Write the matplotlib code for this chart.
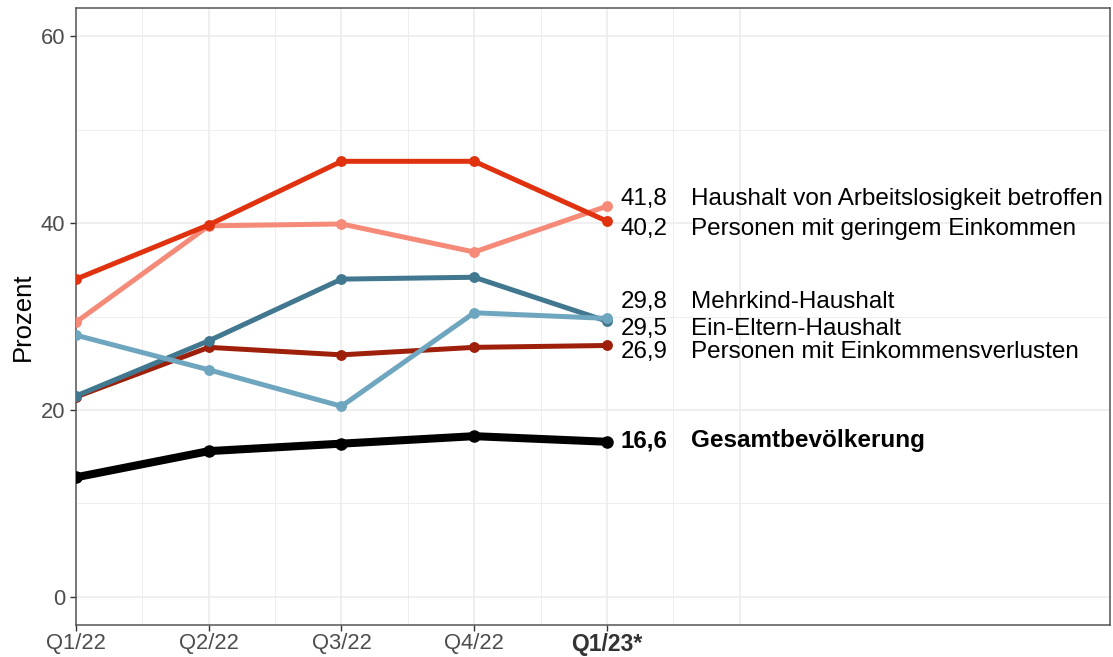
import matplotlib
matplotlib.use("Agg")
import matplotlib.pyplot as plt
import numpy as np

plt.rcParams["font.family"] = ["Liberation Sans", "DejaVu Sans"]

# data
quarters = ["Q1/22", "Q2/22", "Q3/22", "Q4/22", "Q1/23*"]
groups = [
    "Haushalt von Arbeitslosigkeit betroffen",
    "Personen mit geringem Einkommen",
    "Mehrkind-Haushalt",
    "Ein-Eltern-Haushalt",
    "Personen mit Einkommensverlusten",
    "Gesamtbevölkerung",
]
arbeitslos = [29.4, 39.7, 39.9, 36.9, 41.8]
gering_eink = [34.0, 39.8, 46.6, 46.6, 40.2]
mehrkind = [28.0, 24.3, 20.4, 30.4, 29.8]
ein_eltern = [21.5, 27.4, 34.0, 34.2, 29.5]
eink_verlust = [21.4, 26.7, 25.9, 26.7, 26.9]
gesamt = [12.8, 15.6, 16.4, 17.2, 16.6]

series = [arbeitslos, gering_eink, mehrkind, ein_eltern, eink_verlust, gesamt]
colors = ["#F58A78", "#E0320F", "#6FA6BF", "#41778F", "#9E200A", "#000000"]
# label positions after de-overlapping (data units)
label_y = [42.6, 39.4, 31.6, 28.7, 26.2, 16.7]

fig = plt.figure(figsize=(11.13, 6.57), dpi=100)
ax = fig.add_axes([0.0683, 0.0487, 0.9290, 0.9391])

x = np.arange(1, len(quarters) + 1)
# draw order: thin colored lines, black on top
order = [4, 3, 2, 0, 1, 5]
for i in order:
    bold = groups[i] == "Gesamtbevölkerung"
    ax.plot(x, series[i], color=colors[i], lw=5.8 if bold else 3.6,
            marker="o", ms=8 if bold else 6.8, solid_capstyle="butt", zorder=3)

for i, g in enumerate(groups):
    bold = g == "Gesamtbevölkerung"
    val = f"{series[i][-1]:.1f}".replace(".", ",")
    fw = "bold" if bold else "normal"
    ax.text(5.105, label_y[i], val, fontsize=17.4, fontweight=fw,
            va="center", ha="left", color="black")
    ax.text(5.63, label_y[i], g, fontsize=17.5, fontweight=fw,
            va="center", ha="left", color="black")

ax.set_xlim(1, 8.79)
ax.set_ylim(-3, 63)
ax.set_xticks(list(x) + [6])
ax.set_xticklabels(quarters + [""])
ax.set_xticks(np.arange(1.5, 6, 1), minor=True)
ax.set_yticks([0, 20, 40, 60])
ax.set_yticks([10, 30, 50], minor=True)

ax.grid(which="major", color="#EBEBEB", lw=1.1, zorder=0)
ax.grid(which="minor", color="#EBEBEB", lw=0.6, zorder=0)
ax.set_axisbelow(True)

ax.tick_params(which="major", length=4, width=1, color="#333333",
               labelsize=15.8, labelcolor="#4D4D4D")
ax.tick_params(axis="x", pad=2)
ax.tick_params(axis="y", pad=4)
ax.tick_params(which="minor", length=0)
ax.xaxis.get_major_ticks()[5].tick1line.set_visible(False)
for lbl in ax.get_xticklabels():
    if lbl.get_text() == "Q1/23*":
        lbl.set_fontweight("bold")
        lbl.set_color("#333333")
        lbl.set_fontsize(16.5)
for s in ax.spines.values():
    s.set_color("#555555")
    s.set_linewidth(1.1)

ax.set_ylabel("Prozent", fontsize=18.5, color="black", labelpad=4)

fig.savefig("out.png", dpi=100)
